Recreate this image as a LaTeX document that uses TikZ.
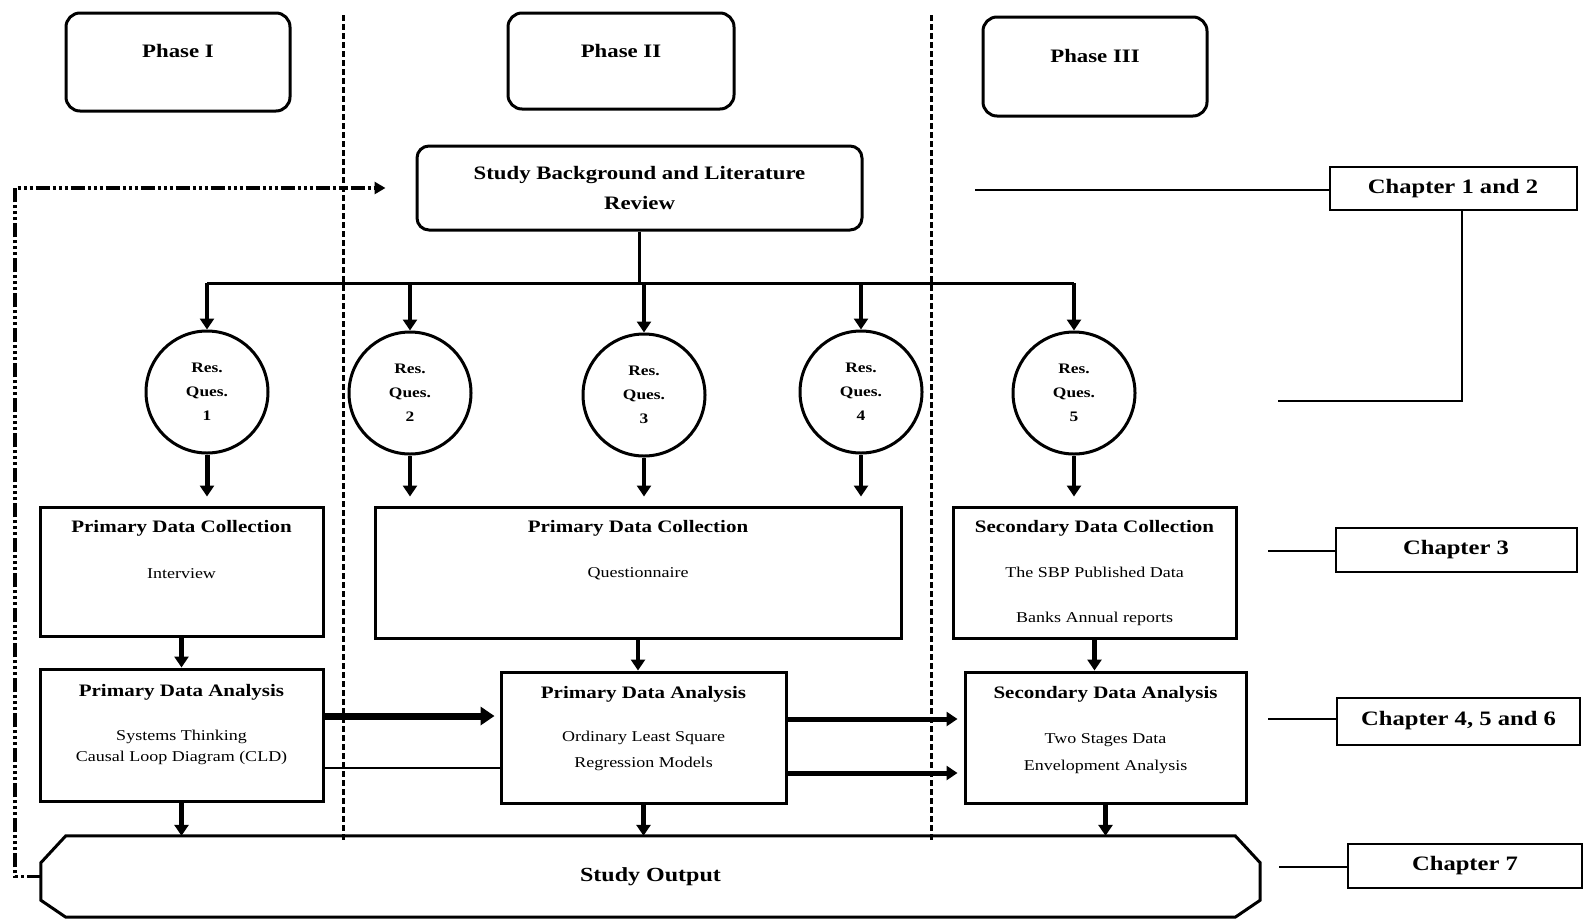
\documentclass[tikz,border=0pt]{standalone}
\usepackage{fontspec}
\setmainfont{Liberation Serif}[FakeStretch=1.2]
\usetikzlibrary{arrows.meta,calc}

\begin{document}
\begin{tikzpicture}[x=1pt,y=-1pt,
  phasebox/.style={draw,line width=3pt,rounded corners=14pt,inner sep=0pt},
  phasetxt/.style={font=\fontsize{19}{22}\selectfont\bfseries,inner sep=0pt},
  bgbox/.style={draw,line width=3pt,rounded corners=12pt,align=center,
    font=\fontsize{19}{30}\selectfont\bfseries,inner sep=0pt},
  rq/.style={draw,circle,line width=3pt,minimum size=122pt,inner sep=0pt,align=center,
    font=\fontsize{14.5}{24}\selectfont\bfseries},
  box/.style={draw,line width=3pt,inner sep=0pt},
  ttl/.style={font=\fontsize{17.5}{20}\selectfont\bfseries,inner sep=0pt},
  sub/.style={font=\fontsize{15}{#1}\selectfont,align=center,inner sep=0pt},
  chbox/.style={draw,line width=2pt,inner sep=0pt,font=\fontsize{20.5}{24}\selectfont\bfseries},
  chline/.style={line width=1.5pt},
  sep/.style={line width=3pt,dash pattern=on 6pt off 3pt},
  fb/.style={line width=3.5pt,dash pattern=on 14pt off 3pt on 3pt off 3pt on 3pt off 3pt on 3pt off 3pt,
    -{Triangle[length=11pt,width=12pt]}},
  bus/.style={line width=3pt},
  arr/.style={line width=#1,-{Triangle[length=11pt,width=14pt]}},
  arr/.default=4.5pt,
  bigarr/.style={line width=7pt,-{Triangle[length=14pt,width=18pt]}},
]
\useasboundingbox[fill=white] (0,0) rectangle (1584,919);

% phase dividers
\draw[sep] (343,15) -- (343,841);
\draw[sep] (931,15) -- (931,841);

% phase headings
\node[phasebox,minimum width=224pt,minimum height=98pt] (ph1) at (178,62) {};
\node[phasetxt] (ph1t) at (178,51) {Phase I};
\node[phasebox,minimum width=226pt,minimum height=96pt] (ph2) at (621,61) {};
\node[phasetxt] (ph2t) at (621,51) {Phase II};
\node[phasebox,minimum width=224pt,minimum height=99pt] (ph3) at (1095,66.5) {};
\node[phasetxt] (ph3t) at (1095,56) {Phase III};

% background and literature
\node[bgbox,minimum width=445pt,minimum height=84pt] (bg) at (639.5,188)
  {Study Background and Literature\\Review};

% research questions
\node[rq] (q1) at (207,392) {Res.\\Ques.\\1};
\node[rq] (q2) at (410,393) {Res.\\Ques.\\2};
\node[rq] (q3) at (644,395) {Res.\\Ques.\\3};
\node[rq] (q4) at (861,392) {Res.\\Ques.\\4};
\node[rq] (q5) at (1074,393) {Res.\\Ques.\\5};

% data collection
\node[box,minimum width=283pt,minimum height=129pt] (pdc1) at (181.5,571.5) {};
\node[ttl] (pdc1t) at (181.5,528) {Primary Data Collection};
\node[sub=18pt] (pdc1s) at (181.5,574) {Interview};

\node[box,minimum width=526pt,minimum height=131pt] (pdc2) at (638,572.5) {};
\node[ttl] (pdc2t) at (638,528) {Primary Data Collection};
\node[sub=18pt] (pdc2s) at (638,574) {Questionnaire};

\node[box,minimum width=283pt,minimum height=131pt] (sdc) at (1094.5,572.5) {};
\node[ttl] (sdct) at (1094.5,528) {Secondary Data Collection};
\node[sub=45pt] (sdcs) at (1094.5,596.5) {The SBP Published Data\\Banks Annual reports};

% data analysis
\node[box,minimum width=283pt,minimum height=132pt] (pda1) at (181.5,735) {};
\node[ttl] (pda1t) at (181.5,692) {Primary Data Analysis};
\node[sub=21pt] (pda1s) at (181.5,747.5) {Systems Thinking\\Causal Loop Diagram (CLD)};

\node[box,minimum width=285pt,minimum height=131pt] (pda2) at (643.5,737.5) {};
\node[ttl] (pda2t) at (643.5,694) {Primary Data Analysis};
\node[sub=26pt] (pda2s) at (643.5,751) {Ordinary Least Square\\Regression Models};

\node[box,minimum width=281pt,minimum height=131pt] (sda) at (1105.5,737.5) {};
\node[ttl] (sdat) at (1105.5,694) {Secondary Data Analysis};
\node[sub=27pt] (sdas) at (1105.5,753.5) {Two Stages Data\\Envelopment Analysis};

% study output
\node[inner sep=0pt,minimum width=1219pt,minimum height=81pt,
  font=\fontsize{20}{24}\selectfont\bfseries] (out) at (650.5,876.5) {Study Output};
\draw[line width=3pt]
  ($(out.north west)+(25,0)$) -- ($(out.north east)+(-25,0)$)
  -- ($(out.north east)+(0,27)$) -- ($(out.south east)+(0,-17)$)
  -- ($(out.south east)+(-25,0)$) -- ($(out.south west)+(25,0)$)
  -- ($(out.south west)+(0,-17)$) -- ($(out.north west)+(0,27)$) -- cycle;

% chapter labels
\node[chbox,minimum width=247pt,minimum height=43pt] (ch12) at (1453,188.5) {Chapter 1 and 2};
\node[chbox,minimum width=241pt,minimum height=44pt] (ch3) at (1456,550) {Chapter 3};
\node[chbox,minimum width=243pt,minimum height=47pt] (ch456) at (1458.5,721) {Chapter 4, 5 and 6};
\node[chbox,minimum width=234pt,minimum height=44pt] (ch7) at (1465,866) {Chapter 7};

% chapter leaders
\coordinate (l12a) at (975,190);
\coordinate (l12b) at (1278,401);
\coordinate (l3) at (1268,551);
\coordinate (l456) at (1268,719);
\coordinate (l7) at (1279,867);
\draw[chline] (l12a) -- (l12a -| ch12.west);
\draw[chline] ([xshift=9pt]ch12.south) -- ([xshift=9pt]ch12.south |- l12b) -- (l12b);
\draw[chline] (l3) -- (l3 -| ch3.west);
\draw[chline] (l456) -- (l456 -| ch456.west);
\draw[chline] (l7) -- (l7 -| ch7.west);

% background to research questions
\coordinate (busy) at (0,283);
\draw[bus] (bg.south) -- (bg.south |- busy);
\draw[bus] (q1.north |- busy) -- (q5.north |- busy);
\foreach \q in {q1,q2,q3,q4,q5}
  \draw[arr=3.5pt] (\q.north |- busy) -- (\q.north);

% research questions to data collection
\draw[arr=5pt,shorten >=9pt] (q1.south) -- (q1.south |- pdc1.north);
\draw[arr=4pt,shorten >=9pt] (q2.south) -- (q2.south |- pdc2.north);
\draw[arr=4pt,shorten >=9pt] (q3.south) -- (q3.south |- pdc2.north);
\draw[arr=4pt,shorten >=9pt] (q4.south) -- (q4.south |- pdc2.north);
\draw[arr=4pt,shorten >=9pt] (q5.south) -- (q5.south |- sdc.north);

% collection to analysis
\draw[arr] (pdc1.south) -- (pdc1.south |- pda1.north);
\draw[arr] (pdc2.south) -- (pdc2.south |- pda2.north);
\draw[arr] (sdc.south) -- (sdc.south |- sda.north);

% analysis to output
\draw[arr] (pda1.south) -- (pda1.south |- out.north);
\draw[arr] (pda2.south) -- (pda2.south |- out.north);
\draw[arr] (sda.south) -- (sda.south |- out.north);

% links between analyses
\coordinate (a1u) at ([yshift=19pt]pda1.east);
\coordinate (a1l) at ([yshift=-33pt]pda1.east);
\coordinate (a2u) at ([yshift=18.5pt]pda2.east);
\coordinate (a2l) at ([yshift=-35.5pt]pda2.east);
\draw[bigarr,shorten >=5pt] (a1u) -- (a1u -| pda2.west);
\draw[line width=2pt] (a1l) -- (a1l -| pda2.west);
\draw[arr=5pt,shorten >=6pt] (a2u) -- (a2u -| sda.west);
\draw[arr=5pt,shorten >=6pt] (a2l) -- (a2l -| sda.west);

% feedback from output to background
\coordinate (fbx) at (15,0);
\draw[fb,shorten >=30pt] (out.west) -- (out.west -| fbx) -- (fbx |- bg.west) -- (bg.west);
\end{tikzpicture}
\end{document}
